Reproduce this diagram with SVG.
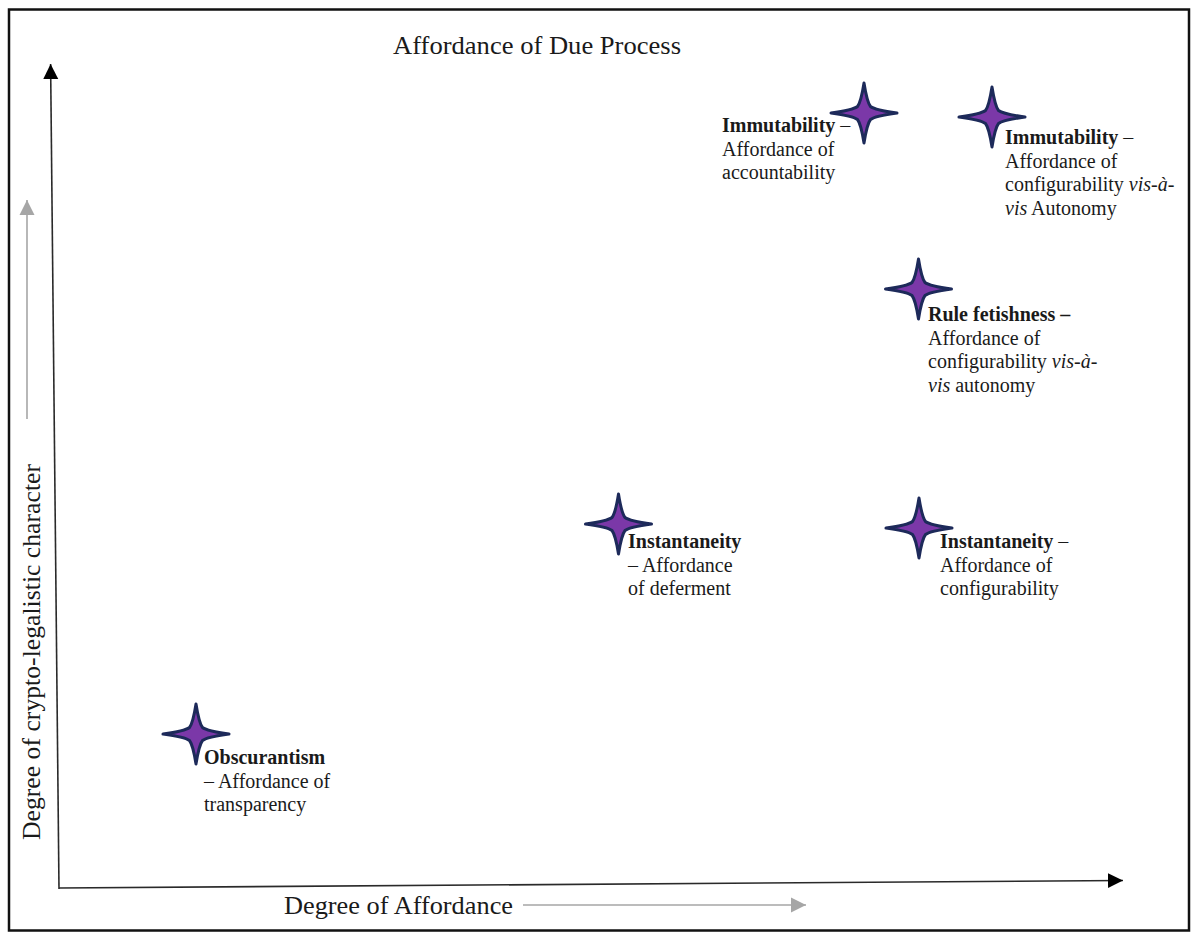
<svg xmlns="http://www.w3.org/2000/svg" width="1192" height="933" viewBox="0 0 1192 933">
<style>
.t{font-family:"Liberation Serif","Times New Roman",serif;fill:#1a1a1a}
.lbl{font-size:20px}
.big{font-size:25px}
.b{font-weight:bold}
.i{font-style:italic}
.axis{stroke:#2a2a2a;stroke-width:1.6;fill:none}
.garrow{stroke:#a6a6a6;stroke-width:1.6;fill:none}
.star{fill:#7b38a8;stroke:#1d2a5a;stroke-width:3;stroke-linejoin:round}
</style>
<defs>
<marker id="ah" markerUnits="userSpaceOnUse" markerWidth="16" markerHeight="16" viewBox="0 0 16 16" refX="15" refY="8" orient="auto">
<path d="M0,0.5 L15,8 L0,15.5 Z" fill="#000"/>
</marker>
<marker id="gh" markerUnits="userSpaceOnUse" markerWidth="16" markerHeight="16" viewBox="0 0 16 16" refX="15" refY="8" orient="auto">
<path d="M0,0.5 L15,8 L0,15.5 Z" fill="#a6a6a6"/>
</marker>
<path id="star" class="star" d="M0,-30 Q3,-11 6.5,-6.5 Q11,-3 33,0 Q11,3 6.5,6.5 Q3,11 0,30 Q-3,11 -6.5,6.5 Q-11,3 -33,0 Q-11,-3 -6.5,-6.5 Q-3,-11 0,-30 Z"/>
</defs>
<rect width="1192" height="933" fill="#fff"/>
<rect x="9" y="9.5" width="1180" height="921" fill="none" stroke="#111" stroke-width="2.5"/>

<g id="connectors">
<line class="axis" x1="59" y1="889" x2="50.6" y2="64" marker-end="url(#ah)"/>
<line class="axis" x1="59" y1="888" x2="1123" y2="880.5" marker-end="url(#ah)"/>
<line class="garrow" x1="27" y1="419" x2="27" y2="200" marker-end="url(#gh)"/>
<line class="garrow" x1="523" y1="905" x2="806" y2="905" marker-end="url(#gh)"/>
</g>

<g id="title">
<text class="t big" x="393" y="54" textLength="288" lengthAdjust="spacingAndGlyphs">Affordance of Due Process</text>
</g>
<g id="x-axis-label">
<text class="t big" x="284" y="914" textLength="229" lengthAdjust="spacingAndGlyphs">Degree of Affordance</text>
</g>
<g id="y-axis-label">
<text class="t big" transform="translate(40,840) rotate(-90)" x="0" y="0" textLength="376" lengthAdjust="spacingAndGlyphs">Degree of crypto-legalistic character</text>
</g>

<g id="node-obscurantism">
<use href="#star" x="196" y="734"/>
<text class="t lbl" x="204"><tspan x="204" y="764" class="b">Obscurantism</tspan><tspan x="204" y="787.5">– Affordance of</tspan><tspan x="204" y="811">transparency</tspan></text>
</g>

<g id="node-instantaneity-deferment">
<use href="#star" x="618.5" y="524"/>
<text class="t lbl" x="628"><tspan x="628" y="548" class="b">Instantaneity</tspan><tspan x="628" y="571.5">– Affordance</tspan><tspan x="628" y="595">of deferment</tspan></text>
</g>

<g id="node-instantaneity-configurability">
<use href="#star" x="919" y="528"/>
<text class="t lbl" x="940"><tspan x="940" y="548"><tspan class="b">Instantaneity</tspan> –</tspan><tspan x="940" y="571.5">Affordance of</tspan><tspan x="940" y="595">configurability</tspan></text>
</g>

<g id="node-rule-fetishness">
<use href="#star" x="918.5" y="289"/>
<text class="t lbl" x="928"><tspan x="928" y="321" class="b">Rule fetishness –</tspan><tspan x="928" y="344.5">Affordance of</tspan><tspan x="928" y="368">configurability <tspan class="i">vis-à-</tspan></tspan><tspan x="928" y="391.5"><tspan class="i">vis</tspan> autonomy</tspan></text>
</g>

<g id="node-immutability-accountability">
<text class="t lbl" x="722"><tspan x="722" y="132"><tspan class="b">Immutability</tspan> –</tspan><tspan x="722" y="155.5">Affordance of</tspan><tspan x="722" y="179">accountability</tspan></text>
<use href="#star" x="864" y="113"/>
</g>

<g id="node-immutability-configurability">
<use href="#star" x="992" y="117"/>
<text class="t lbl" x="1005"><tspan x="1005" y="144"><tspan class="b">Immutability</tspan> –</tspan><tspan x="1005" y="167.5">Affordance of</tspan><tspan x="1005" y="191">configurability <tspan class="i">vis-à-</tspan></tspan><tspan x="1005" y="214.5"><tspan class="i">vis</tspan> Autonomy</tspan></text>
</g>
</svg>
